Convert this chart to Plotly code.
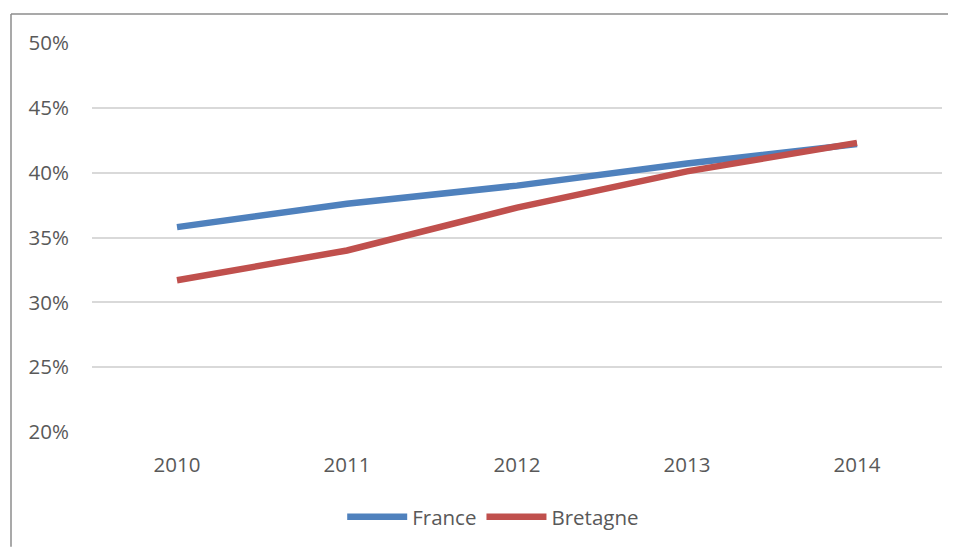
import plotly.graph_objects as go

years = ["2010", "2011", "2012", "2013", "2014"]
france = [0.358, 0.376, 0.390, 0.407, 0.422]
bretagne = [0.317, 0.340, 0.373, 0.401, 0.423]
y_ticks = [0.20, 0.25, 0.30, 0.35, 0.40, 0.45, 0.50]
y_tick_labels = ["20%", "25%", "30%", "35%", "40%", "45%", "50%"]

FONT = "Open Sans"
TXT = "#595959"

fig = go.Figure()
fig.add_trace(go.Scatter(x=years, y=france, name="France", mode="lines",
                         line=dict(color="#4F81BD", width=6.5)))
fig.add_trace(go.Scatter(x=years, y=bretagne, name="Bretagne", mode="lines",
                         line=dict(color="#C0504D", width=6.5)))

# page body has an 8px default margin, so the svg starts at (8, 8);
# size the figure so the page fits the 956x548 window exactly
W, H = 948, 540
L, R, T, B = 84, 14, 35, 115
pw, ph = W - L - R, H - T - B

fx = (3 - L) / pw
fy = 1 + (T - 6) / ph
fx_end = (W - L) / pw
fy_end = -B / ph
frame = dict(color="#8C8C8C", width=1.5)

fig.update_layout(
    width=W, height=H,
    margin=dict(l=L, r=R, t=T, b=B, pad=0),
    paper_bgcolor="white", plot_bgcolor="white",
    font=dict(family=FONT, size=20.5, color=TXT),
    showlegend=True,
    legend=dict(orientation="h", x=0.472, xanchor="center", y=-0.215, yanchor="middle",
                font=dict(family=FONT, size=20.5, color=TXT), itemwidth=60,
                bgcolor="rgba(0,0,0,0)"),
    xaxis=dict(type="category", range=[-0.5, 4.5], showgrid=False, zeroline=False,
               showline=False, ticks="", ticklabelstandoff=18,
               tickfont=dict(family=FONT, size=20.5, color=TXT)),
    yaxis=dict(range=[0.20, 0.50], tickvals=y_ticks, ticktext=y_tick_labels,
               showgrid=True, gridcolor="#D9D9D9", gridwidth=1.5, zeroline=False,
               showline=False, ticks="", ticklabelstandoff=22,
               tickfont=dict(family=FONT, size=20.5, color=TXT)),
    shapes=[
        dict(type="line", xref="paper", yref="paper", x0=fx, x1=fx, y0=fy_end, y1=fy,
             line=frame, layer="below"),
        dict(type="line", xref="paper", yref="paper", x0=fx, x1=fx_end, y0=fy, y1=fy,
             line=frame, layer="below"),
    ],
)

fig.write_html("out.html", config={"displayModeBar": False})
